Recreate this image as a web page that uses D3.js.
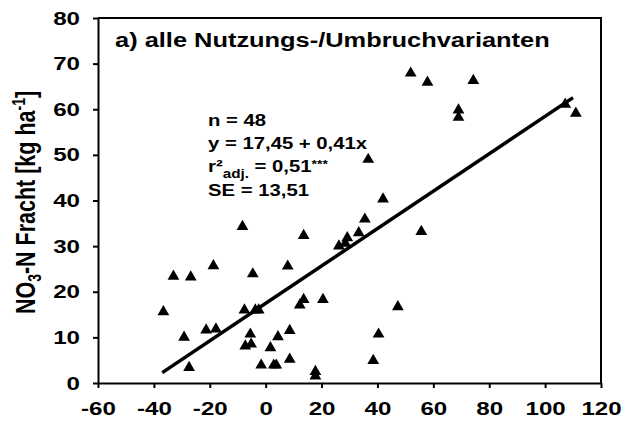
<!DOCTYPE html>
<html>
<head>
<meta charset="utf-8">
<script src="https://cdn.jsdelivr.net/npm/d3@7"></script>
<style>
  body { margin: 0; background: #fff; }
  text { font-family: Arial, "Liberation Sans", sans-serif; font-weight: bold; fill: #000; }
</style>
</head>
<body>
<div id="chart"></div>
<script>
// values (x, y pairs)
const xValues = [
  -36.6, -33.0, -29.2, -27.4, -26.8, -21.3, -18.7, -17.8, -8.3, -7.6,
  -7.3, -5.5, -5.2, -4.6, -3.7, -2.5, -1.6, 1.7, 2.9, 3.8,
  4.4, 7.9, 8.6, 8.6, 12.2, 13.6, 13.6, 17.8, 17.8, 20.5,
  26.2, 28.5, 29.2, 33.3, 35.5, 36.7, 38.5, 40.4, 42.0, 47.3,
  51.9, 55.7, 57.9, 69.0, 69.0, 74.3, 107.2, 111.0
]
const yValues = [
  15.6, 23.4, 10.0, 3.4, 23.2, 11.6, 25.7, 11.8, 34.3, 16.0,
  8.1, 10.7, 8.5, 23.9, 16.0, 16.0, 3.9, 7.7, 3.9, 3.9,
  10.1, 25.6, 11.5, 5.2, 17.1, 18.3, 32.3, 2.5, 1.5, 18.3,
  30.0, 30.6, 31.8, 32.9, 35.9, 49.0, 4.9, 10.7, 40.3, 16.7,
  67.9, 33.2, 65.9, 59.8, 58.2, 66.3, 61.1, 59.1
]

// regression y = 17,45 + 0,41x, drawn over the data range
const intercept = 17.45
const slope = 0.41
const fitRange = [-37, 110]

const xTicks = [-60, -40, -20, 0, 20, 40, 60, 80, 100, 120]
const yTicks = [0, 10, 20, 30, 40, 50, 60, 70, 80]

const title = 'a) alle Nutzungs-/Umbruchvarianten'

const width = 625
const height = 426
const stretch = 1.27 // text in the original is squeezed wide

const x = d3.scaleLinear().domain([-60, 120]).range([98, 601])
const y = d3.scaleLinear().domain([0, 80]).range([383, 18])

const svg = d3.select('#chart')
  .append('svg')
  .attr('width', width)
  .attr('height', height)

// frame (top and right edges)
svg.append('path')
  .attr('d', `M${x(-60)},${y(80)}H${x(120)}V${y(0)}`)
  .attr('fill', 'none')
  .attr('stroke', '#000')
  .attr('stroke-width', 2)

// plain hyphen for negatives, like the original
const plain = d => String(d)

// X axis
svg.append('g')
  .attr('transform', `translate(0,${y(0)})`)
  .call(d3.axisBottom(x).tickValues(xTicks).tickFormat(plain).tickSize(5).tickPadding(14).tickSizeOuter(0))
  .call(g => g.select('.domain').attr('stroke-width', 2))
  .call(g => g.selectAll('.tick line').attr('stroke-width', 2))
  .call(g => g.selectAll('.tick text').attr('font-size', 19).attr('font-family', null))
  .call(g => g.selectAll('.tick text').attr('transform', `scale(${stretch},1)`))

// Y axis
svg.append('g')
  .attr('transform', `translate(${x(-60)},0)`)
  .call(d3.axisLeft(y).tickValues(yTicks).tickFormat(plain).tickSize(5).tickPadding(13).tickSizeOuter(0))
  .call(g => g.select('.domain').attr('stroke-width', 2))
  .call(g => g.selectAll('.tick line').attr('stroke-width', 2))
  .call(g => g.selectAll('.tick text').attr('font-size', 19).attr('font-family', null))
  .call(g => g.selectAll('.tick text').each(function () {
    const tx = +d3.select(this).attr('x') || 0
    d3.select(this).attr('transform', `translate(${tx * (1 - stretch)},0) scale(${stretch},1)`)
  }))

// Y axis label
const yLabel = svg.append('text')
  .attr('transform', `translate(35,${(y(0) + y(80)) / 2 + 2}) scale(${stretch},1) rotate(-90)`)
  .attr('text-anchor', 'middle')
  .attr('font-size', 21.5)
yLabel.append('tspan').text('NO')
yLabel.append('tspan').attr('font-size', 14).attr('dy', 5).text('3')
yLabel.append('tspan').attr('dy', -5).text('-N Fracht [kg ha')
yLabel.append('tspan').attr('font-size', 14).attr('dy', -8).text('-1')
yLabel.append('tspan').attr('dy', 8).text(']')

// title
svg.append('text')
  .attr('transform', `translate(115,47) scale(${stretch},1)`)
  .attr('font-size', 20)
  .text(title)

// statistics block
const stats = svg.append('g')
  .attr('transform', `translate(208,0) scale(${stretch},1)`)
  .attr('font-size', 16)
stats.append('text').attr('y', 126).text('n = 48')
stats.append('text').attr('y', 149).text('y = 17,45 + 0,41x')
const r2 = stats.append('text').attr('y', 172)
r2.append('tspan').text('r²')
r2.append('tspan').attr('font-size', 12).attr('dy', 6).text('adj.')
r2.append('tspan').attr('dy', -6).text(' = 0,51')
r2.append('tspan').attr('font-size', 11).attr('dy', -4).text('***')
stats.append('text').attr('y', 196).text('SE = 13,51')

// regression line
svg.append('line')
  .attr('x1', x(fitRange[0]))
  .attr('y1', y(intercept + slope * fitRange[0]))
  .attr('x2', x(fitRange[1]))
  .attr('y2', y(intercept + slope * fitRange[1]))
  .attr('stroke', '#000')
  .attr('stroke-width', 3.5)

// points
const triangle = d3.symbol().type(d3.symbolTriangle).size(60)
svg.append('g')
  .selectAll('path')
  .data(xValues.map((v, i) => [v, yValues[i]]))
  .join('path')
  .attr('transform', d => `translate(${x(d[0])},${y(d[1])})`)
  .attr('d', triangle)
  .attr('fill', '#000')
</script>
</body>
</html>
